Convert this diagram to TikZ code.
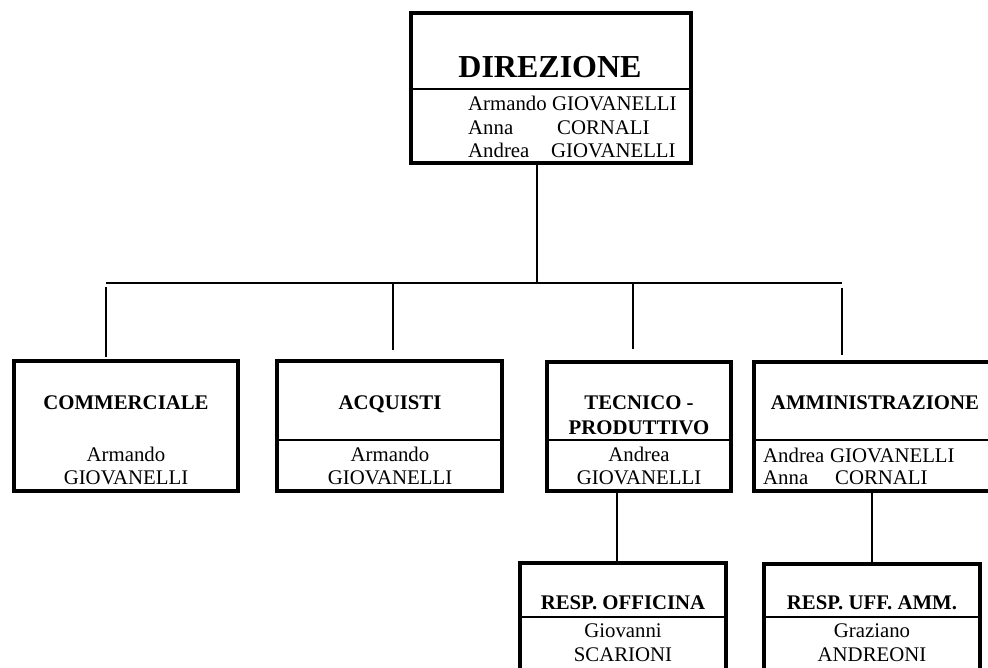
\documentclass[tikz,border=0pt]{standalone}
\usepackage{fontspec}
\setmainfont{Liberation Serif}
\begin{document}
\begin{tikzpicture}[x=1pt, y=-1pt,
		box/.style={draw, line width=4pt, inner sep=0pt},
		conn/.style={line width=2pt},
		sep/.style={line width=1.6pt},
		txt/.style={inner sep=0pt, anchor=base, font=\fontsize{20.8}{24}\selectfont},
		head/.style={txt, font=\fontsize{20.8}{24}\selectfont\bfseries}]
		\useasboundingbox (0,0) rectangle (988,668);
		\clip (0,0) rectangle (988,668);
		
		% boxes
		\node[box, minimum width=280pt, minimum height=150pt] 	(dir) 	at (551,88) 	{};
		\node[box, minimum width=224pt, minimum height=130pt] 	(com) 	at (126,426) 	{};
		\node[box, minimum width=225pt, minimum height=130pt] 	(acq) 	at (389.5,426) 	{};
		\node[box, minimum width=184pt, minimum height=129pt] 	(tec) 	at (639,426.5) 	{};
		\node[box, minimum width=241pt, minimum height=129pt] 	(amm) 	at (874.5,426.5) {};
		\node[box, minimum width=206pt, minimum height=127pt] 	(off) 	at (623,626.5) 	{};
		\node[box, minimum width=216pt, minimum height=126pt] 	(uff) 	at (872,627) 	{};
		
		\draw[sep] (dir.west |- 0,89) -- (dir.east |- 0,89);
		\draw[sep] (acq.west |- 0,440) -- (acq.east |- 0,440);
		\draw[sep] (tec.west |- 0,440) -- (tec.east |- 0,440);
		\draw[sep] (amm.west |- 0,440) -- (amm.east |- 0,440);
		\draw[sep] (off.west |- 0,617) -- (off.east |- 0,617);
		\draw[sep] (uff.west |- 0,617) -- (uff.east |- 0,617);
		
		% texts
		\node[head, font=\fontsize{32}{38}\selectfont\bfseries] (dirT) at (550,78) {DIREZIONE};
		\node[txt, anchor=base west] (dirA) at (468,111) {\makebox[84pt][l]{Armando}GIOVANELLI};
		\node[txt, anchor=base west] (dirB) at (468,135) {\makebox[89pt][l]{Anna}CORNALI};
		\node[txt, anchor=base west] (dirC) at (468,158) {\makebox[83pt][l]{Andrea}GIOVANELLI};
		
		\node[head] (comT) at (126,409) {COMMERCIALE};
		\node[txt] 	(comA) at (126,461) {Armando};
		\node[txt] 	(comB) at (126,484) {GIOVANELLI};
		
		\node[head] (acqT) at (390,409) {ACQUISTI};
		\node[txt] 	(acqA) at (390,461) {Armando};
		\node[txt] 	(acqB) at (390,484) {GIOVANELLI};
		
		\node[head] (tecT) at (639,409) {TECNICO -};
		\node[head] (tecU) at (639,434) {PRODUTTIVO};
		\node[txt] 	(tecA) at (639,461) {Andrea};
		\node[txt] 	(tecB) at (639,484) {GIOVANELLI};
		
		\node[head] (ammT) at (875,409) {AMMINISTRAZIONE};
		\node[txt, anchor=base west] (ammA) at (763,462) {\makebox[67pt][l]{Andrea}GIOVANELLI};
		\node[txt, anchor=base west] (ammB) at (763,484) {\makebox[72pt][l]{Anna}CORNALI};
		
		\node[head] (offT) at (623,609) {RESP. OFFICINA};
		\node[txt] 	(offA) at (623,637) {Giovanni};
		\node[txt] 	(offB) at (623,661) {SCARIONI};
		
		\node[head] (uffT) at (872,609) {RESP. UFF. AMM.};
		\node[txt] 	(uffA) at (872,637) {Graziano};
		\node[txt] 	(uffB) at (872,661) {ANDREONI};
		
		% connectors
		\coordinate (jCom) at (106,283);
		\coordinate (jAcq) at (393,283);
		\coordinate (jTec) at (633,283);
		\coordinate (jAmm) at (842,283);
		\draw[conn] (jCom) -- (jAmm);
		\draw[conn] ([xshift=-14pt]dir.south) -- ([xshift=-14pt]dir.south |- jCom);
		\draw[conn, shorten <=4pt, shorten >=2pt] (jCom) -- (jCom |- com.north);
		\draw[conn, shorten >=9pt] (jAcq) -- (jAcq |- acq.north);
		\draw[conn, shorten >=11pt] (jTec) -- (jTec |- tec.north);
		\draw[conn, shorten <=5pt, shorten >=5pt] (jAmm) -- (jAmm |- amm.north);
		\draw[conn] ([xshift=-6pt]off.north) -- ([xshift=-6pt]off.north |- tec.south);
		\draw[conn] (uff.north) -- (uff.north |- amm.south);
\end{tikzpicture}
\end{document}
